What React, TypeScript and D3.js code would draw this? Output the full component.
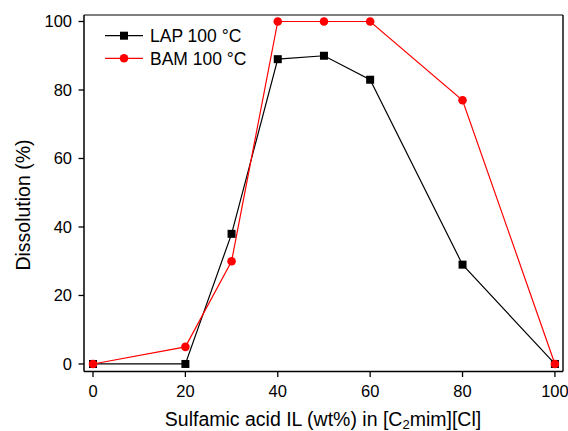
import React from "react";
import * as d3 from "d3";

const xValues = [0, 20, 30, 40, 50, 60, 80, 100];
const lapValues = [0, 0, 38, 89, 90, 83, 29, 0];
const bamValues = [0, 5, 30, 100, 100, 100, 77, 0];
const xTicks = [0, 20, 40, 60, 80, 100];
const yTicks = [0, 20, 40, 60, 80, 100];
const seriesNames = ["LAP 100 °C", "BAM 100 °C"];

const W = 568;
const H = 431;
const left = 84, right = 563, top = 15, bottom = 371.5;

export default function App() {
  const x = d3.scaleLinear().domain([-1.95, 101.75]).range([left, right]);
  const y = d3.scaleLinear().domain([-2.2, 101.9]).range([bottom, top]);
  const line = d3
    .line<[number, number]>()
    .x((d) => x(d[0]))
    .y((d) => y(d[1]));
  const lap: [number, number][] = xValues.map((v, i) => [v, lapValues[i]]);
  const bam: [number, number][] = xValues.map((v, i) => [v, bamValues[i]]);
  const font = "'Liberation Sans', Arial, sans-serif";

  return (
    <svg
      width={W}
      height={H}
      style={{ position: "absolute", left: 0, top: 0, background: "#fff" }}
      fontFamily={font}
    >
      <rect x={0} y={0} width={W} height={H} fill="#fff" />
      {/* data */}
      <path d={line(lap) || ""} fill="none" stroke="#000" strokeWidth={1.2} />
      <path d={line(bam) || ""} fill="none" stroke="#ff0000" strokeWidth={1.2} />
      {lap.map((d, i) => (
        <rect key={"l" + i} x={x(d[0]) - 4} y={y(d[1]) - 4} width={8} height={8} fill="#000" />
      ))}
      {bam.map((d, i) => (
        <circle key={"b" + i} cx={x(d[0])} cy={y(d[1])} r={4.3} fill="#ff0000" />
      ))}
      {/* frame */}
      <line x1={left} x2={right} y1={top} y2={top} stroke="#000" strokeWidth={1.2} />
      <line x1={right} x2={right} y1={top} y2={bottom} stroke="#000" strokeWidth={1.4} />
      <line x1={left} x2={left} y1={top} y2={bottom} stroke="#000" strokeWidth={1.5} />
      <line x1={left} x2={right} y1={bottom} y2={bottom} stroke="#000" strokeWidth={1.5} />
      {/* y ticks */}
      {yTicks.map((t) => (
        <g key={"y" + t}>
          <line x1={left - 5.5} x2={left} y1={y(t)} y2={y(t)} stroke="#000" strokeWidth={1.3} />
          <text x={72} y={y(t)} dy="0.36em" textAnchor="end" fontSize={16.5}>
            {t}
          </text>
        </g>
      ))}
      {/* x ticks */}
      {xTicks.map((t) => (
        <g key={"x" + t}>
          <line x1={x(t)} x2={x(t)} y1={bottom} y2={bottom + 5.5} stroke="#000" strokeWidth={1.3} />
          <text x={x(t)} y={397} textAnchor="middle" fontSize={16.5}>
            {t}
          </text>
        </g>
      ))}
      {/* axis titles */}
      <text x={323} y={426} textAnchor="middle" fontSize={19.5}>
        Sulfamic acid IL (wt%) in [C
        <tspan fontSize={13} dy={3}>2</tspan>
        <tspan dy={-3}>mim][Cl]</tspan>
      </text>
      <text
        transform={`translate(30, 205) rotate(-90)`}
        textAnchor="middle"
        fontSize={19.5}
      >
        Dissolution (%)
      </text>
      {/* legend */}
      <g>
        <line x1={105} x2={143} y1={35.7} y2={35.7} stroke="#000" strokeWidth={1.2} />
        <rect x={120} y={31.7} width={8} height={8} fill="#000" />
        <text x={150} y={35.7} dy="0.36em" fontSize={17.5}>{seriesNames[0]}</text>
        <line x1={105} x2={143} y1={58.3} y2={58.3} stroke="#ff0000" strokeWidth={1.2} />
        <circle cx={124} cy={58.3} r={4.3} fill="#ff0000" />
        <text x={150} y={58.3} dy="0.36em" fontSize={17.5}>{seriesNames[1]}</text>
      </g>
    </svg>
  );
}
